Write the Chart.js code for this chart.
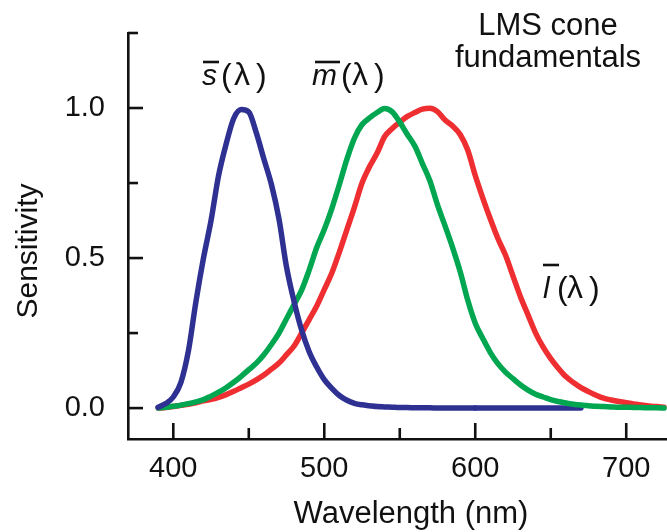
<!DOCTYPE html>
<html><head><meta charset="utf-8">
<script src="https://cdn.jsdelivr.net/npm/chart.js@4.4.0/dist/chart.umd.min.js"></script>
<style>html,body{margin:0;padding:0;background:#fff;overflow:hidden}</style>
</head><body>
<canvas id="c" width="667" height="532"></canvas>
<script>
// ---- data ----
const wavelengths = [390,395,400,405,410,415,420,425,430,435,440,445,450,455,460,465,470,475,480,485,490,495,500,505,510,515,520,525,530,535,540,545,550,555,560,565,570,575,580,585,590,595,600,605,610,615,620,625,630,635,640,645,650,655,660,665,670,675,680,685,690,695,700,705,710,715,720,725];
const sCone = [0.003,0.015,0.037,0.085,0.19,0.355,0.50,0.625,0.775,0.88,0.965,0.995,0.987,0.917,0.83,0.745,0.63,0.47,0.355,0.26,0.188,0.137,0.095,0.066,0.042,0.026,0.016,0.011,0.008,0.005,0.004,0.003,0.002,0.002,0.001,0.001,0.001,0,0,0,0,0,0,0,0,0,0,0,0,0,0,0,0,0,0,0,0,null,null,null,null,null,null,null,null,null,null,null];
const mCone = [0,0.003,0.006,0.01,0.015,0.021,0.028,0.04,0.053,0.068,0.086,0.106,0.128,0.15,0.178,0.212,0.25,0.298,0.345,0.393,0.46,0.535,0.595,0.665,0.745,0.83,0.9,0.945,0.967,0.985,0.998,0.987,0.953,0.912,0.873,0.815,0.757,0.677,0.607,0.535,0.455,0.36,0.283,0.232,0.185,0.148,0.12,0.098,0.077,0.06,0.046,0.037,0.028,0.022,0.017,0.013,0.01,0.008,0.006,0.005,0.004,0.003,0.003,0.002,0.002,0.001,0.001,0];
const lCone = [0,0.002,0.005,0.009,0.013,0.018,0.024,0.029,0.036,0.045,0.056,0.068,0.08,0.094,0.11,0.13,0.15,0.178,0.207,0.25,0.295,0.34,0.395,0.45,0.52,0.595,0.67,0.75,0.805,0.85,0.905,0.932,0.953,0.972,0.985,0.996,0.999,0.988,0.96,0.94,0.912,0.86,0.775,0.70,0.63,0.565,0.51,0.44,0.37,0.31,0.25,0.203,0.165,0.133,0.105,0.085,0.068,0.055,0.043,0.033,0.027,0.022,0.018,0.014,0.01,0.007,0.005,0.003];
const xTickValues = [400,450,500,550,600,650,700];
const xTickLabels = ['400','','500','','600','','700'];
const yTickValues = [0,0.25,0.5,0.75,1.0,1.25];
const yTickLabels = ['0.0','','0.5','','1.0',''];
const titleLines = ['LMS cone','fundamentals'];
const xTitle = 'Wavelength (nm)';
const yTitle = 'Sensitivity';
const sSplit = 600; // s curve: the part beyond this wavelength lies under the other curves

const FONT = '"Liberation Sans", Arial, Helvetica, sans-serif';
const INK = '#111';
const toXY = (arr, lo, hi) => wavelengths.map((w,i)=>({x:w,y:arr[i]})).filter(p => p.x >= lo && p.x <= hi);

const decor = {
  id:'decor',
  afterDraw(chart){
    const ctx = chart.ctx, xs = chart.scales.x, ys = chart.scales.y;
    const left = chart.chartArea.left, bottom = chart.chartArea.bottom;
    ctx.save();
    ctx.strokeStyle = INK; ctx.lineWidth = 2.6; ctx.lineCap = 'butt';
    yTickValues.forEach((v,i)=>{
      const py = ys.getPixelForValue(v), len = yTickLabels[i] ? 15 : 10;
      ctx.beginPath(); ctx.moveTo(left, py); ctx.lineTo(left+len, py); ctx.stroke();
    });
    xTickValues.forEach((v,i)=>{
      const px = xs.getPixelForValue(v), len = xTickLabels[i] ? 16 : 11;
      ctx.beginPath(); ctx.moveTo(px, bottom); ctx.lineTo(px, bottom-len); ctx.stroke();
    });
    ctx.fillStyle = INK;
    ctx.font = '31px ' + FONT; ctx.textAlign = 'center'; ctx.textBaseline = 'alphabetic';
    ctx.fillText(titleLines[0], 548, 35);
    ctx.fillText(titleLines[1], 548, 67);
    ctx.font = '31px ' + FONT;
    ctx.fillText(xTitle, 411, 523);
    ctx.font = '30px ' + FONT;
    ctx.save(); ctx.translate(37, 251); ctx.rotate(-Math.PI/2);
    ctx.fillText(yTitle, 0, 0); ctx.restore();
    ctx.textAlign = 'left';
    function lab(letter, x, base, oy, ox1, ox2, px, lx, cx){
      ctx.font = 'italic 30px ' + FONT; ctx.fillText(letter, x, base);
      ctx.font = '32px ' + FONT;
      ctx.fillText('(', px, base+1); ctx.fillText('\u03BB', lx, base); ctx.fillText(')', cx, base+1);
      ctx.lineWidth = 2.6; ctx.beginPath(); ctx.moveTo(ox1, oy); ctx.lineTo(ox2, oy); ctx.stroke();
    }
    lab('s', 202, 85, 62, 203, 219, 221, 234, 256);
    lab('m', 312, 85, 62, 315, 340, 341, 352, 374);
    lab('l', 543, 298, 265, 543, 559, 557, 567, 589);
    ctx.restore();
  }
};

const lineStyle = {borderWidth:5.5, tension:0.3, cubicInterpolationMode:'monotone', borderCapStyle:'round', borderJoinStyle:'round', fill:false, pointRadius:0};
new Chart(document.getElementById('c'), {
  type:'line',
  data:{ datasets:[
    Object.assign({label:'s', data: toXY(sCone, 390, sSplit), borderColor:'#2E3192', order:0}, lineStyle),
    Object.assign({label:'m', data: toXY(mCone, 390, 725), borderColor:'#00A650', order:1}, lineStyle),
    Object.assign({label:'l', data: toXY(lCone, 390, 725), borderColor:'#EE2E31', order:2}, lineStyle),
    Object.assign({label:'s tail', data: toXY(sCone, sSplit, 725), borderColor:'#2E3192', order:3}, lineStyle)
  ]},
  options:{
    responsive:false, animation:false, devicePixelRatio:1,
    layout:{padding:{top:33,right:0,left:0,bottom:0}},
    plugins:{legend:{display:false}, tooltip:{enabled:false}},
    scales:{
      x:{type:'linear', min:370, max:727,
        afterFit(s){ s.height = 93; s.paddingLeft = 0; s.paddingRight = 0; },
        afterBuildTicks(s){ s.ticks = xTickValues.map(v=>({value:v})); },
        grid:{display:false, drawTicks:false},
        border:{display:true, color:INK, width:2.6},
        ticks:{autoSkip:false, maxRotation:0, padding:13, color:INK, font:{family:FONT, size:29},
          callback:(v,i)=> xTickLabels[i] || null}
      },
      y:{type:'linear', min:-0.103, max:1.25,
        afterFit(s){ s.width = 128; s.paddingTop = 0; s.paddingBottom = 0; },
        afterBuildTicks(s){ s.ticks = yTickValues.map(v=>({value:v})); },
        grid:{display:false, drawTicks:false},
        border:{display:true, color:INK, width:2.6},
        ticks:{autoSkip:false, padding:23, color:INK, font:{family:FONT, size:29},
          callback:(v,i)=> yTickLabels[i] || null}
      }
    }
  },
  plugins:[decor]
});
</script>
</body></html>
